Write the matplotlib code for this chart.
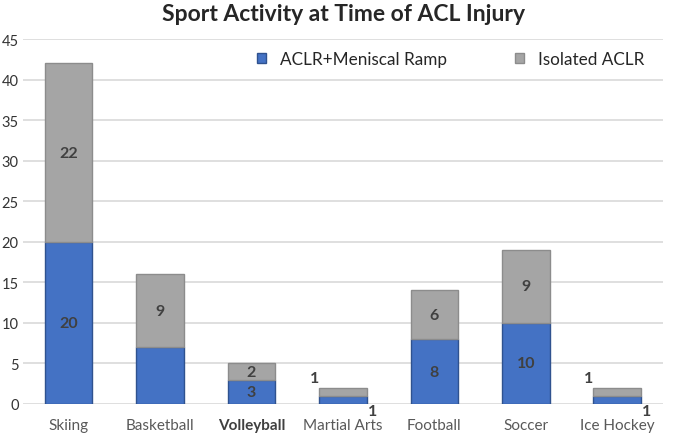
import matplotlib.pyplot as plt
import numpy as np

# ------------------ DATA ------------------

sports = ["Skiing", "Basketball", "Volleyball", "Martial Arts", "Football", "Soccer", "Ice Hockey"]
ramp = [20, 7, 3, 1, 8, 10, 1]
isolated = [22, 9, 2, 1, 6, 9, 1]
ramp_labels = ["20", "", "3", "1", "8", "10", "1"]
iso_labels = ["22", "9", "2", "1", "6", "9", "1"]

# ------------------ PLOT ------------------

plt.rcParams['font.family'] = ['Lato', 'DejaVu Sans']

BLUE = "#4472C4"
BLUE_EDGE = "#2F528F"
GREY = "#A5A5A5"
GREY_EDGE = "#8C8C8C"
TXT = "#404040"

fig = plt.figure(figsize=(6.73, 4.35), dpi=100)
ax = fig.add_axes([0.034, 0.069, 0.951, 0.839])

x = np.arange(len(sports))
w = 0.52
ax.bar(x, ramp, w, color=BLUE, edgecolor=BLUE_EDGE, linewidth=1, label="ACLR+Meniscal Ramp", zorder=3)
ax.bar(x, isolated, w, bottom=ramp, color=GREY, edgecolor=GREY_EDGE, linewidth=1, label="Isolated ACLR", zorder=3)

for i in range(len(sports)):
    r, s = ramp[i], isolated[i]
    if r + s <= 2:
        # small bars: labels outside the bar
        ax.text(i - w / 2 - 0.05, r + s + 0.3, iso_labels[i], ha="center", va="bottom",
                fontsize=11.5, fontweight="bold", color=TXT)
        ax.text(i + w / 2 + 0.06, 0.0, ramp_labels[i], ha="center", va="top",
                fontsize=11.5, fontweight="bold", color=TXT)
        continue
    if ramp_labels[i]:
        ax.text(i, r / 2, ramp_labels[i], ha="center", va="center",
                fontsize=11.5, fontweight="bold", color=TXT)
    ax.text(i, r + s / 2, iso_labels[i], ha="center", va="center",
            fontsize=11.5, fontweight="bold", color=TXT)

ax.set_xlim(-0.5, len(sports) - 0.5)
ax.set_ylim(0, 45)
ax.set_yticks(range(0, 46, 5))
ax.grid(axis="y", color="#D9D9D9", linewidth=1.2, zorder=0)
ax.set_axisbelow(True)
for sp in ax.spines.values():
    sp.set_visible(False)
ax.tick_params(length=0)
ax.tick_params(axis="y", labelsize=10.5, labelcolor="#333333", pad=3)
ax.tick_params(axis="x", labelsize=11, labelcolor="#595959", pad=10)
ax.set_xticks(x)
ax.set_xticklabels(sports)
for lbl in ax.get_xticklabels():
    if lbl.get_text() == "Volleyball":
        lbl.set_fontweight("bold")
        lbl.set_color(TXT)

ax.legend(loc="center", bbox_to_anchor=(0.668, 0.945), ncol=2, frameon=False,
          fontsize=12.3, handlelength=0.55, handleheight=0.55, columnspacing=4.0,
          handletextpad=0.8, labelcolor="#262626")

fig.suptitle("Sport Activity at Time of ACL Injury", x=0.51, y=0.99,
             fontsize=16.5, fontweight="bold", color="#262626")

fig.savefig("out.png", dpi=100)
